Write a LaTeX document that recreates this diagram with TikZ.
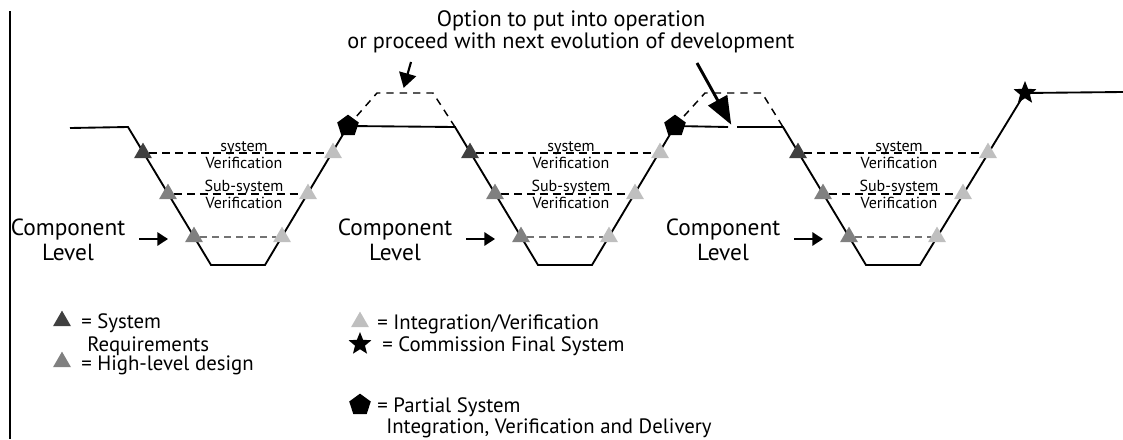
\documentclass[tikz,border=0pt]{standalone}
\usepackage{fontspec}
\setmainfont{PT Sans}
\usetikzlibrary{shapes.geometric,arrows.meta,calc,backgrounds}

\tikzset{
  tri/.style={regular polygon,regular polygon sides=3,minimum size=15.6pt,inner sep=0pt},
  reqtri/.style={tri,fill=black!75},
  hldtri/.style={tri,fill=black!50},
  inttri/.style={tri,fill=black!25},
  pentnode/.style={regular polygon,regular polygon sides=5,minimum size=17pt,inner sep=0pt,fill=black},
  finstar/.style={star,star points=5,star point ratio=2.3,minimum size=18pt,inner sep=0pt,fill=black},
  vline/.style={line width=1.4pt},
  verline/.style={line width=1.3pt,dash pattern=on 6pt off 3.6pt},
  cmpline/.style={line width=1pt,draw=black!55,dash pattern=on 5pt off 4pt},
  humpline/.style={line width=1.1pt,dash pattern=on 5.5pt off 4.5pt},
  lvlarrow/.style={line width=1.5pt,-{Triangle[length=8pt,width=10pt]}},
  optarrow/.style={line width=1.6pt,-{Triangle[length=11pt,width=13pt]}},
  smalltxt/.style={font=\fontsize{12}{12.8}\selectfont,align=center,inner sep=0pt},
  lvltxt/.style={font=\fontsize{17.5}{19}\selectfont,align=center,inner sep=0pt},
  opttxt/.style={font=\fontsize{16.7}{14.3}\selectfont,align=center,inner sep=0pt},
  lgdtxt/.style={font=\fontsize{15.6}{18}\selectfont,anchor=base west,inner sep=0pt}
}

\begin{document}
\begin{tikzpicture}[x=0.75pt,y=-0.75pt]
\useasboundingbox (0,0) rectangle (1123,439);

% top note
\node[opttxt] (opt) at (571,32) {Option to put into operation\\or proceed with next evolution of development};

% the three V's
\foreach \i/\x in {1/128,2/455,3/783}{
  \coordinate (top\i) at (\x,127);
  \coordinate (bl\i) at ({\x+83},265);
  \coordinate (br\i) at ({\x+137},265);
  \node[reqtri] (req\i) at ({\x+15},153) {};
  \node[hldtri] (hld\i) at ({\x+40},194) {};
  \node[hldtri] (cmp\i) at ({\x+66},237) {};
  \node[inttri] (intc\i) at ({\x+154},237) {};
  \node[inttri] (inth\i) at ({\x+180},194) {};
  \node[inttri] (ints\i) at ({\x+205},153) {};
  \node[smalltxt] (sysv\i) at ({\x+116},155.5) {system\\Verification};
  \node[smalltxt] (subv\i) at ({\x+116},194) {Sub-system\\Verification};
  \node[lvltxt] (lvl\i) at ({\x-60},240) {Component\\Level};
  \coordinate (atail\i) at ({\x+11},239);
  \coordinate (ahead\i) at ({\x+40},239);
  \draw[lvlarrow] (atail\i) -- (ahead\i);
  \begin{pgfonlayer}{background}
    \draw[verline] (req\i) -- (ints\i);
    \draw[verline] (hld\i) -- (inth\i);
    \draw[cmpline] (cmp\i) -- (intc\i);
  \end{pgfonlayer}
}

\node[pentnode] (pent1) at (348,126) {};
\node[pentnode] (pent2) at (675,126) {};
\node[finstar] (fin) at (1025,93) {};

\coordinate (start) at (70,128);
\coordinate (gapl) at (728,127);
\coordinate (gapr) at (737,127);
\coordinate (finish) at (1123,92);
\coordinate (h1a) at (377,93);
\coordinate (h1b) at (433,93);
\coordinate (h2a) at (705,93);
\coordinate (h2b) at (762,93);

\begin{pgfonlayer}{background}
  \draw[vline] (start) -- (top1) -- (bl1) -- (br1) -- (pent1.center) -- (top2)
    -- (bl2) -- (br2) -- (pent2.center) -- (gapl);
  \draw[vline] (gapr) -- (top3) -- (bl3) -- (br3) -- (fin.center) -- (finish);
  \draw[humpline] (pent1.center) -- (h1a) -- (h1b) -- (top2);
  \draw[humpline] (pent2.center) -- (h2a) -- (h2b) -- (top3);
\end{pgfonlayer}

% arrows from the note
\coordinate (o1) at (411,62);
\coordinate (o2) at (697,63);
\draw[optarrow,shorten >=4pt] (o1) -- ($(h1a)!0.45!(h1b)$);
\draw[line width=2.2pt,-{Triangle[length=21pt,width=16pt]},shorten >=2pt] (o2) -- ($(gapl)!0.5!(gapr)$);

% left frame line
\coordinate (frtop) at (10,11);
\coordinate (frbot) at (10,439);
\draw[line width=1.3pt] (frtop) -- (frbot);

% legend
\node[reqtri] (lreq) at (62,321) {};
\node[lgdtxt,text depth=0pt] (treq) at (81,328) {= System};
\node[lgdtxt,text depth=0pt] (treq2) at (87,351) {Requirements};
\node[hldtri] (lhld) at (62,362) {};
\node[lgdtxt] (thld) at (81,370) {= High-level design};
\node[inttri] (lint) at (360,322) {};
\node[lgdtxt] (tint) at (377,329) {= Integration/Verification};
\node[finstar] (lfin) at (360,344) {};
\node[lgdtxt] (tfin) at (382,351) {= Commission Final System};
\node[pentnode] (lpent) at (360,405) {};
\node[lgdtxt] (tpent) at (377,412) {= Partial System};
\node[lgdtxt] (tpent2) at (386,433) {Integration, Verification and Delivery};
\end{tikzpicture}
\end{document}
